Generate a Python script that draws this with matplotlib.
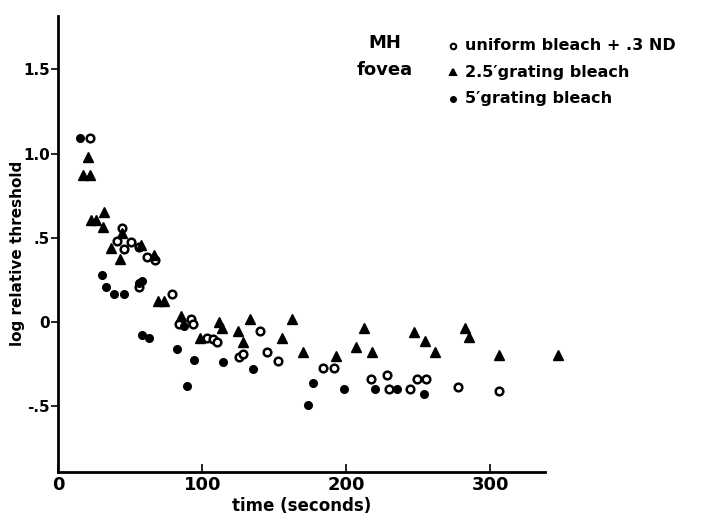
import matplotlib.pyplot as plt

# uniform bleach + .3 ND (open circles)
uni_t = [22.4, 44, 40.5, 45.6, 50.9, 56.2, 61.4, 67.4, 56.2, 78.7, 84, 91.9, 93.3,
         103.5, 107.2, 110, 140, 125.7, 128.5, 144.7, 152.8, 183.5, 191.4, 216.9,
         228, 229.6, 244, 249, 255, 277.8, 306]
uni_y = [1.09, 0.56, 0.48, 0.435, 0.476, 0.447, 0.385, 0.366, 0.207, 0.164, -0.01, 0.016, -0.01,
         -0.097, -0.10, -0.12, -0.05, -0.21, -0.19, -0.18, -0.23, -0.27, -0.27, -0.34,
         -0.316, -0.40, -0.40, -0.34, -0.34, -0.384, -0.41]

# 2.5' grating bleach (triangles)
g25_t = [20.8, 17.4, 22.4, 23.1, 26.6, 31.7, 31, 44, 37, 42.8, 57.5, 66.4, 69.4, 73.4,
         85.6, 98.4, 111.8, 113.4, 125, 128.5, 133.1, 155, 162, 170, 192.8, 206.5,
         212.5, 217.6, 247, 254.9, 261.8, 282.6, 285, 306, 347]
g25_y = [0.978, 0.875, 0.875, 0.605, 0.605, 0.654, 0.563, 0.53, 0.44, 0.377, 0.46, 0.40, 0.124, 0.124,
         0.036, -0.093, 0.0, -0.034, -0.05, -0.117, 0.016, -0.097, 0.016, -0.18, -0.2, -0.15,
         -0.034, -0.18, -0.06, -0.11, -0.178, -0.038, -0.089, -0.197, -0.197]

# 5' grating bleach (filled dots)
g5_t = [15.5, 30.3, 33.1, 38.9, 45.6, 56.3, 57.9, 58.5, 63.2, 87.3, 82.6, 94.2,
        114.1, 135, 89.1, 173.6, 176.6, 198.6, 220, 235, 253.7]
g5_y = [1.09, 0.279, 0.211, 0.164, 0.164, 0.233, 0.243, -0.077, -0.093, -0.024, -0.16, -0.227,
        -0.235, -0.277, -0.38, -0.49, -0.36, -0.40, -0.40, -0.40, -0.425]

yticks = [-0.5, 0, 0.5, 1.0, 1.5]
ytick_labels = ['-.5', '0', '.5', '1.0', '1.5']
xticks = [0, 100, 200, 300]

plt.rcParams['font.family'] = 'DejaVu Sans'
plt.rcParams['font.weight'] = 'bold'

fig = plt.figure(figsize=(7.09, 5.21), dpi=100)
ax = fig.add_axes([0.082, 0.094, 0.687, 0.875])

ax.plot(uni_t, uni_y, 'o', mfc='white', mec='black', mew=1.8, ms=5.5, clip_on=False)
ax.plot(g25_t, g25_y, '^', color='black', ms=6.5, clip_on=False)
ax.plot(g5_t, g5_y, 'o', color='black', ms=5.5, clip_on=False)

ax.set_xlim(0, 338)
ax.set_ylim(-0.89, 1.816)
ax.set_xticks(xticks)
ax.set_xticklabels([str(v) for v in xticks], fontsize=13, fontweight='bold')
ax.set_yticks(yticks)
ax.set_yticklabels(ytick_labels, fontsize=11, fontweight='bold')
ax.tick_params(axis='x', direction='in', length=6, width=1.2, pad=3)
ax.tick_params(axis='y', direction='out', length=5, width=1.2, pad=1)

for side in ['top', 'right']:
    ax.spines[side].set_visible(False)
for side in ['left', 'bottom']:
    ax.spines[side].set_linewidth(2)

ax.set_xlabel('time (seconds)', fontsize=12, fontweight='bold', labelpad=2)
ax.set_ylabel('log relative threshold', fontsize=11, fontweight='bold')
ax.yaxis.set_label_coords(-0.068, 0.48)

# title and legend text
ax.text(0.67, 0.93, 'MH', transform=ax.transAxes, ha='center', fontsize=13, fontweight='bold')
ax.text(0.67, 0.87, 'fovea', transform=ax.transAxes, ha='center', fontsize=13, fontweight='bold')

legend_items = [('o', 'white', 'uniform bleach + .3 ND', 4),
                ('^', 'black', "2.5\u2032grating bleach", 5),
                ('o', 'black', "5\u2032grating bleach", 3.5)]
for i, (m, fc, label, size) in enumerate(legend_items):
    yy = 0.935 - i * 0.058
    ax.plot([0.81], [yy], m, mfc=fc, mec='black', mew=1.5, ms=size,
            transform=ax.transAxes, clip_on=False)
    ax.text(0.835, yy, label, transform=ax.transAxes, va='center', fontsize=11.5, fontweight='bold')

fig.savefig('out.png', dpi=100)
